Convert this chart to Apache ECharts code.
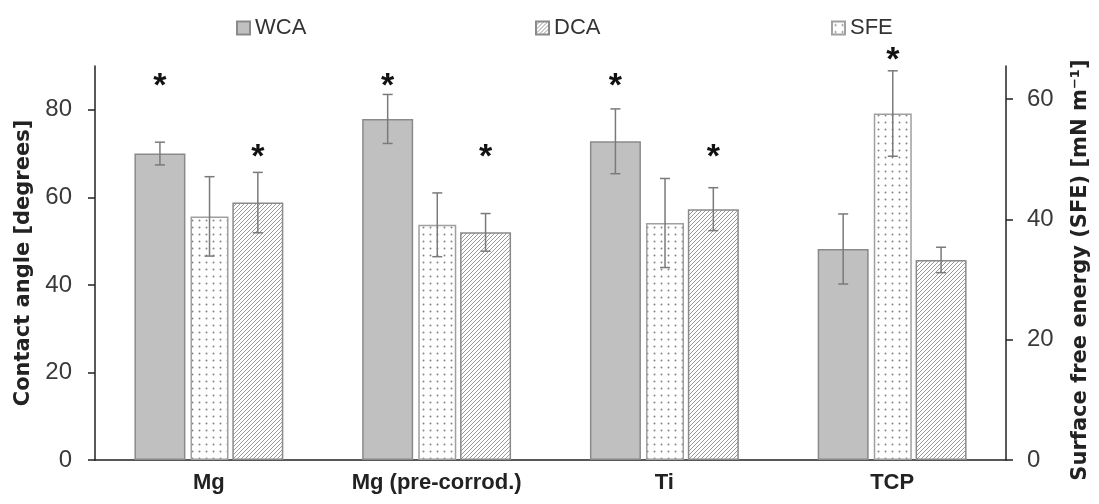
<!DOCTYPE html>
<html><head><meta charset="utf-8">
<script src="https://cdn.jsdelivr.net/npm/echarts@6/dist/echarts.min.js"></script>
<style>html,body{margin:0;padding:0;background:#fff}#c{width:1099px;height:504px}</style>
</head><body><div id="c"></div>
<script>
// ---- data ----
const categories = ['Mg', 'Mg (pre-corrod.)', 'Ti', 'TCP'];
const wca    = [70.0, 77.9, 72.8, 48.2];   // contact angle, left axis
const wcaErr = [2.6, 5.6, 7.4, 8.0];
const sfe    = [40.5, 39.1, 39.4, 57.6];   // surface free energy, right axis
const sfeErr = [6.6, 5.3, 7.4, 7.1];
const dca    = [58.8, 52.0, 57.3, 45.7];   // contact angle, left axis
const dcaErr = [6.9, 4.3, 4.9, 2.9];
const wcaStar = [86.8, 86.8, 86.8, null];
const dcaStar = [70.6, 70.6, 70.6, null];
const sfeStar = [null, null, null, 67.5];
const leftTicks = [0, 20, 40, 60, 80];
const rightTicks = [0, 20, 40, 60];

// ---- layout helpers ----
const widths = [51, 38, 51];
const gapPct = 0.1;
let sum = 0; widths.forEach(w => sum += w * (1 + gapPct)); sum -= widths[2] * gapPct;
let off = -sum / 2; const centers = [];
widths.forEach(w => { centers.push(off + w / 2); off += w * (1 + gapPct); });

function dotPattern() {
  const c = document.createElement('canvas'); c.width = 7; c.height = 7;
  const g = c.getContext('2d'); g.fillStyle = '#fff'; g.fillRect(0, 0, 7, 7);
  g.fillStyle = '#858585'; g.beginPath(); g.arc(3.5, 3.5, 1.0, 0, Math.PI * 2); g.fill();
  return c;
}
function hatchPattern() {
  const s = 4; const c = document.createElement('canvas'); c.width = s; c.height = s;
  const g = c.getContext('2d'); g.fillStyle = '#fff'; g.fillRect(0, 0, s, s);
  g.strokeStyle = '#9a9a9a'; g.lineWidth = 1;
  g.beginPath();
  g.moveTo(0, s); g.lineTo(s, 0);
  g.moveTo(-1, 1); g.lineTo(1, -1);
  g.moveTo(s - 1, s + 1); g.lineTo(s + 1, s - 1);
  g.stroke();
  return c;
}

function toPairs(vals, errs) {
  const out = [];
  vals.forEach((v, i) => { if (v != null) out.push(errs ? [i, v, errs[i]] : [i, v]); });
  return out;
}
function errSeries(k, vals, errs, yIdx) {
  return {
    type: 'custom', yAxisIndex: yIdx, z: 5, silent: true,
    encode: { x: 0, y: 1 },
    data: toPairs(vals, errs),
    renderItem(params, api) {
      const i = api.value(0), v = api.value(1), e = api.value(2);
      const x = api.coord([i, 0])[0] + centers[k];
      const t = api.coord([i, v + e])[1], b = api.coord([i, v - e])[1];
      const st = { stroke: '#7a7a7a', lineWidth: 1.5 };
      return { type: 'group', children: [
        { type: 'line', shape: { x1: x, y1: t, x2: x, y2: b }, style: st },
        { type: 'line', shape: { x1: x - 5, y1: t, x2: x + 5, y2: t }, style: st },
        { type: 'line', shape: { x1: x - 5, y1: b, x2: x + 5, y2: b }, style: st }
      ]};
    }
  };
}
function starSeries(k, vals, yIdx) {
  return {
    type: 'custom', yAxisIndex: yIdx, z: 6, silent: true, clip: false,
    encode: { x: 0, y: 1 },
    data: toPairs(vals),
    renderItem(params, api) {
      const p = api.coord([api.value(0), api.value(1)]);
      return { type: 'text', x: p[0] + centers[k], y: p[1] + 7,
        style: { text: '*', fill: '#111', font: 'bold 34px "Liberation Sans"', align: 'center', verticalAlign: 'middle' } };
    }
  };
}

const legendBase = {
  itemWidth: 13, itemHeight: 13, itemGap: 0, top: 12, icon: 'rect',
  textStyle: { fontSize: 22, color: '#333', fontFamily: 'Liberation Sans' }
};

const chart = echarts.init(document.getElementById('c'), null, { renderer: 'canvas' });
chart.setOption({
  animation: false,
  backgroundColor: '#fff',
  legend: [
    Object.assign({ data: ['WCA'], left: 231 }, legendBase),
    Object.assign({ data: ['DCA'], left: 530 }, legendBase),
    Object.assign({ data: ['SFE'], left: 826 }, legendBase)
  ],
  grid: { left: 95, right: 93, top: 66, bottom: 44, containLabel: false },
  xAxis: {
    type: 'category', data: categories,
    axisLine: { lineStyle: { color: '#222', width: 1.5 } },
    axisTick: { show: false },
    axisLabel: { interval: 0, margin: 12, fontSize: 22, fontWeight: 'bold', color: '#222', fontFamily: 'Liberation Sans' }
  },
  yAxis: [
    {
      type: 'value', min: 0, max: 90, position: 'left',
      name: 'Contact angle [degrees]', nameLocation: 'middle', nameGap: 60,
      nameTextStyle: { fontSize: 21, fontWeight: 'bold', color: '#222', fontFamily: 'DejaVu Sans' },
      axisLine: { show: true, lineStyle: { color: '#222', width: 1.5 } },
      axisTick: { show: true, length: 7, customValues: leftTicks, lineStyle: { color: '#222', width: 1.5 } },
      axisLabel: { customValues: leftTicks, margin: 23, fontSize: 24, color: '#3a3a3a', fontFamily: 'Liberation Sans' },
      splitLine: { show: false }
    },
    {
      type: 'value', min: 0, max: 65.5, position: 'right',
      name: 'Surface free energy (SFE) [mN m\u207B\u00B9]', nameLocation: 'middle', nameGap: 64,
      nameTextStyle: { fontSize: 21, fontWeight: 'bold', color: '#222', fontFamily: 'DejaVu Sans', padding: [0, 14, 0, 0] },
      axisLine: { show: true, lineStyle: { color: '#222', width: 1.5 } },
      axisTick: { show: true, length: 7, customValues: rightTicks, lineStyle: { color: '#222', width: 1.5 } },
      axisLabel: { customValues: rightTicks, margin: 21, fontSize: 24, color: '#3a3a3a', fontFamily: 'Liberation Sans' },
      splitLine: { show: false }
    }
  ],
  series: [
    { name: 'WCA', type: 'bar', data: wca, barWidth: widths[0], barGap: '10%',
      itemStyle: { color: '#c0c0c0', borderColor: '#8a8a8a', borderWidth: 1.5 } },
    { name: 'SFE', type: 'bar', yAxisIndex: 1, data: sfe, barWidth: widths[1], barGap: '10%',
      itemStyle: { color: { image: dotPattern(), repeat: 'repeat' }, borderColor: '#a0a0a0', borderWidth: 1.5 } },
    { name: 'DCA', type: 'bar', data: dca, barWidth: widths[2], barGap: '10%',
      itemStyle: { color: { image: hatchPattern(), repeat: 'repeat' }, borderColor: '#8a8a8a', borderWidth: 1.5 } },
    errSeries(0, wca, wcaErr, 0),
    errSeries(1, sfe, sfeErr, 1),
    errSeries(2, dca, dcaErr, 0),
    starSeries(0, wcaStar, 0),
    starSeries(1, sfeStar, 1),
    starSeries(2, dcaStar, 0)
  ]
});
</script></body></html>
